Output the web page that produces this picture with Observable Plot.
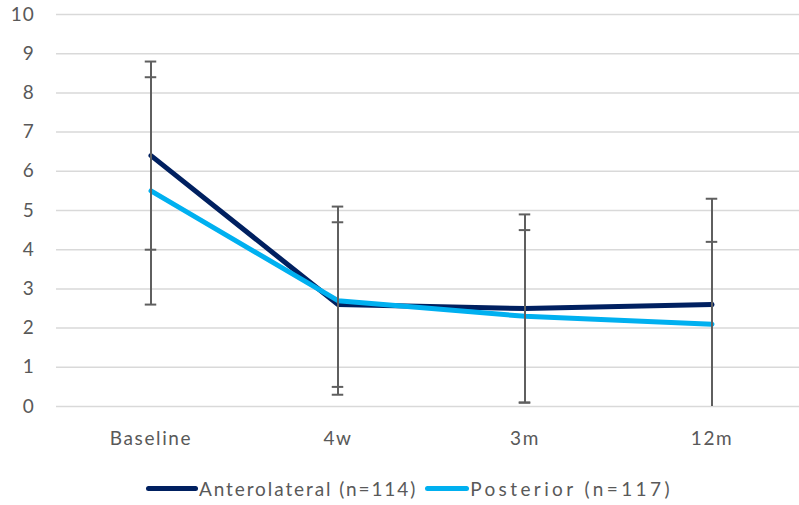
<!DOCTYPE html>
<html>
<head>
<meta charset="utf-8">
<script src="https://cdn.jsdelivr.net/npm/d3@7"></script>
<script src="https://cdn.jsdelivr.net/npm/@observablehq/plot@0.6"></script>
<style>
  html, body { margin: 0; padding: 0; background: #fff; }
  body { width: 799px; height: 505px; overflow: hidden; font-family: Lato, "Open Sans", sans-serif; }
  #legend { display: flex; align-items: center; height: 36px; margin-left: 146px; color: #595959; font-size: 19px; letter-spacing: 1.9px; }
  .item { display: flex; align-items: center; }
  .sw { width: 52px; height: 5px; border-radius: 3px; margin-right: 1px; }
  g[aria-label="x-axis tick label"] text { letter-spacing: 1.6px; }
  g[aria-label="y-axis tick label"] text { letter-spacing: 0.8px; }
</style>
</head>
<body>
<div id="chart"></div>
<div id="legend"></div>
<script>
const categories = ["Baseline", "4w", "3m", "12m"];
const seriesNames = ["Anterolateral (n=114)", "Posterior (n=117)"];
const seriesColors = ["#002060", "#00B0F0"];
const anterolateralMean = [6.4, 2.6, 2.5, 2.6];
const anterolateralLow  = [4.0, 0.3, 0.1, -0.1];
const anterolateralHigh = [8.8, 5.1, 4.9, 5.3];
const posteriorMean = [5.5, 2.7, 2.3, 2.1];
const posteriorLow  = [2.6, 0.5, 0.1, 0.0];
const posteriorHigh = [8.4, 4.7, 4.5, 4.2];
const yTicks = [0,1,2,3,4,5,6,7,8,9,10];

const means = [anterolateralMean, posteriorMean];
const lows = [anterolateralLow, posteriorLow];
const highs = [anterolateralHigh, posteriorHigh];

const rows = [];
seriesNames.forEach((s, si) => categories.forEach((c, i) => rows.push({
  series: s, cat: c, mean: means[si][i], low: lows[si][i], high: highs[si][i]
})));
const byS = s => rows.filter(d => d.series === s);

const capW = 12;
const bandW = 750 / categories.length;
const capInset = (bandW - capW) / 2;
const errColor = "#5f5f5f";

function errMarks(s) {
  const d = byS(s);
  return [
    Plot.ruleX(d, {x: "cat", y1: d => Math.max(0, d.low), y2: "high", stroke: errColor, strokeWidth: 2}),
    Plot.tickY(d, {x: "cat", y: "high", stroke: errColor, strokeWidth: 2, insetLeft: capInset, insetRight: capInset}),
    Plot.tickY(d.filter(r => r.low > 0.05), {x: "cat", y: "low", stroke: errColor, strokeWidth: 2, insetLeft: capInset, insetRight: capInset})
  ];
}

const chart = Plot.plot({
  width: 799,
  height: 470,
  marginLeft: 56,
  marginRight: -7,
  marginTop: 14,
  marginBottom: 64,
  style: {fontFamily: "Lato, 'Open Sans', sans-serif", fontSize: "19px", color: "#595959", background: "#fff"},
  x: {type: "band", domain: categories, padding: 0, label: null},
  y: {domain: [0, 10], label: null},
  marks: [
    Plot.ruleY(yTicks, {stroke: "#d9d9d9", strokeWidth: 1.5}),
    Plot.axisY({ticks: yTicks, tickSize: 0, tickPadding: 22, label: null, fill: "#595959"}),
    Plot.axisX({tickSize: 0, tickPadding: 25, label: null, fill: "#595959"}),
    Plot.line(byS(seriesNames[0]), {x: "cat", y: "mean", stroke: seriesColors[0], strokeWidth: 5, strokeLinecap: "round", strokeLinejoin: "round"}),
    ...errMarks(seriesNames[0]),
    Plot.line(byS(seriesNames[1]), {x: "cat", y: "mean", stroke: seriesColors[1], strokeWidth: 5, strokeLinecap: "round", strokeLinejoin: "round"}),
    ...errMarks(seriesNames[1])
  ]
});
document.getElementById("chart").appendChild(chart);

const legend = document.getElementById("legend");
seriesNames.forEach((s, i) => {
  const it = document.createElement("div");
  it.className = "item";
  if (i > 0) { it.style.marginLeft = "8px"; it.style.letterSpacing = "3.4px"; }
  const sw = document.createElement("div");
  sw.className = "sw";
  sw.style.background = seriesColors[i];
  if (i > 0) sw.style.width = "44px";
  const tx = document.createElement("span");
  tx.textContent = s;
  it.appendChild(sw); it.appendChild(tx);
  legend.appendChild(it);
});
</script>
</body>
</html>
